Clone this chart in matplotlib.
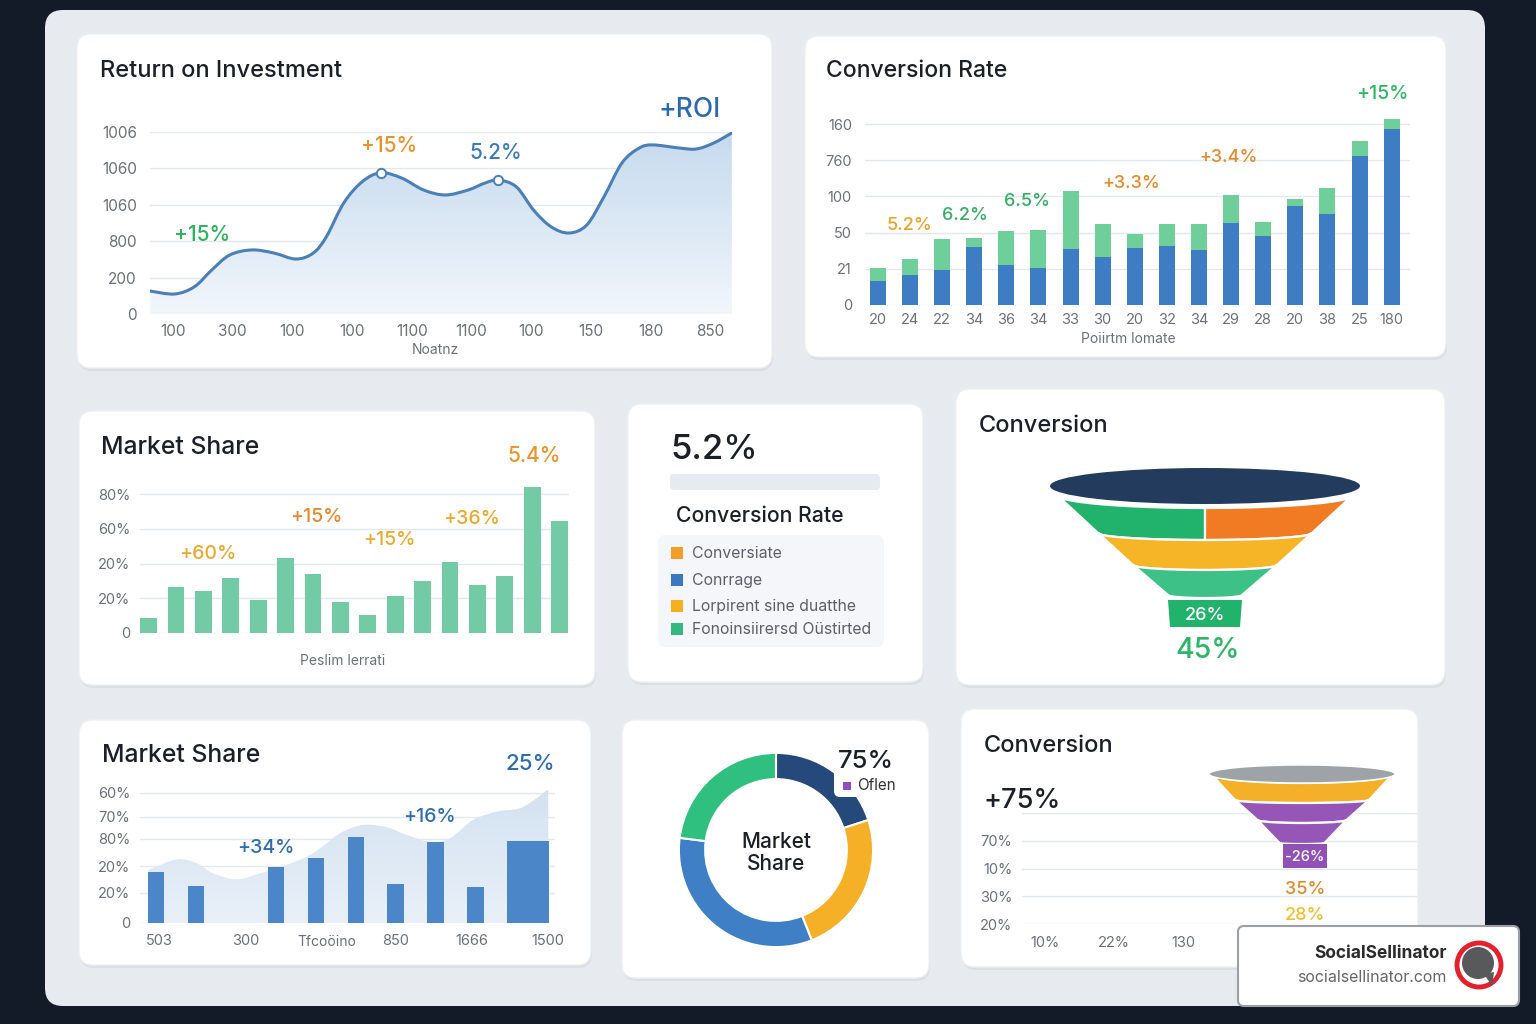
import numpy as np
import matplotlib
matplotlib.use("Agg")
import matplotlib.pyplot as plt
from matplotlib.patches import FancyBboxPatch, Ellipse, Polygon, Circle, Rectangle, PathPatch
from matplotlib.path import Path
from matplotlib.colors import LinearSegmentedColormap

plt.rcParams['font.family'] = ['Inter', 'DejaVu Sans']

W, H = 1536, 1024

# ---------------- data ----------------
# Return on Investment (line)
roi_x = [-0.38, 0.03, 0.36, 0.65, 0.95, 1.32, 1.69, 2.06, 2.35, 2.57, 2.86, 3.17, 3.48, 3.83,
         4.20, 4.56, 4.94, 5.23, 5.45, 5.75, 6.04, 6.33, 6.63, 6.93, 7.22, 7.52, 7.81, 8.04,
         8.48, 8.77, 9.06, 9.36]
roi_y = [126, 110, 150, 242, 324, 352, 335, 302, 335, 425, 610, 727, 776, 747,
         681, 654, 681, 720, 736, 699, 571, 480, 445, 489, 645, 830, 912, 929,
         912, 907, 940, 995]
roi_mark_x = [3.48, 5.45]
roi_mark_y = [776, 736]
roi_yticks = [0, 200, 400, 600, 800, 1000]
roi_ylabels = ['0', '200', '800', '1060', '1060', '1006']
roi_xlabels = ['100', '300', '100', '100', '1100', '1100', '100', '150', '180', '850']

# Conversion Rate (stacked bars)
conv_labels = ['20', '24', '22', '34', '36', '34', '33', '30', '20', '32', '34', '29', '28',
               '20', '38', '25', '180']
conv_blue = [0.66, 0.83, 0.97, 1.59, 1.10, 1.03, 1.56, 1.32, 1.57, 1.64, 1.51, 2.27, 1.91,
             2.74, 2.51, 4.13, 4.85]
conv_total = [1.01, 1.27, 1.81, 1.85, 2.04, 2.06, 3.16, 2.25, 1.97, 2.24, 2.24, 3.03, 2.30,
              2.92, 3.22, 4.52, 5.15]
conv_ylabels = ['0', '21', '50', '100', '760', '160']

# Market Share (bars)
share_vals = [0.42, 1.31, 1.21, 1.59, 0.95, 2.15, 1.70, 0.90, 0.51, 1.07, 1.49, 2.03, 1.39,
              1.63, 4.21, 3.21]
share_ylabels = ['0', '20%', '20%', '60%', '80%']

# KPI legend
kpi_items = ['Conversiate', 'Conrrage', 'Lorpirent sine duatthe', 'Fonoinsiirersd Oüstirted']
kpi_colors = ['#f0a028', '#3b78c0', '#f5b020', '#36b77f']

# Conversion funnel (mid)
fa_widths = [296, 214, 144, 74]
fa_levels = [495, 533, 565, 595]
fa_sags = [13, 7, 5, 3]
fa_colors = ['#f6b526', '#3dc187']

# Market Share (bottom)
ms2_x = [0, 1, 3, 4, 5, 6, 7, 8, 9.3]
ms2_w = [0.42] * 8 + [1.04]
ms2_h = [50.7, 37.3, 55.7, 64.7, 85.7, 39, 81, 36.3, 81.7]
ms2_area_x = [-0.19, 0.52, 1.02, 1.43, 2.02, 2.6, 3.27, 3.93, 4.6, 5.18, 5.77, 6.27, 6.85,
              7.35, 7.93, 8.52, 9.1, 9.52, 9.81]
ms2_area_y = [53, 63.7, 59.7, 49.7, 43.7, 49.7, 58, 69.7, 89.7, 98, 95.7, 88, 81.3, 84.7,
              103, 111.3, 114.7, 124.7, 133.7]
ms2_yticks = [0, 30, 57, 84, 106, 130]
ms2_ylabels = ['0', '20%', '20%', '80%', '70%', '60%']
ms2_xticks = [0.08, 2.24, 6.0, 7.9, 9.8]
ms2_xlabels = ['503', '300', '850', '1666', '1500']

# Donut
donut_vals = [20, 24, 33, 23]
donut_colors = ['#24497a', '#f5b027', '#3f7fc6', '#2fbf7f']

# Conversion (bottom)
c2_ylabels = ['20%', '30%', '10%', '70%', '']
c2_xticks = [0.058, 0.233, 0.408]
c2_xlabels = ['10%', '22%', '130']
fb_widths = [182, 134, 89, 45]
fb_levels = [774, 800, 820, 843]
fb_sags = [9, 3, 3, 1]
fb_colors = ['#f4b028', '#9656b8', '#9656b8']

cards = [(77, 34, 772, 368), (805, 36, 1446, 357), (79, 411, 595, 685), (628, 404, 923, 682),
         (956, 389, 1445, 685), (79, 720, 591, 965), (622, 720, 929, 978), (961, 709, 1418, 967)]

# ---------------- figure ----------------
fig = plt.figure(figsize=(W / 100, H / 100), dpi=100)
fig.patch.set_facecolor('#131b29')


def px_axes(x0, y0, x1, y1, **kw):
    return fig.add_axes([x0 / W, 1 - y1 / H, (x1 - x0) / W, (y1 - y0) / H], **kw)


def pixel_space(ax, x0, y0, x1, y1):
    ax.set_xlim(x0, x1)
    ax.set_ylim(y1, y0)
    ax.axis('off')


def style(ax, pad_y, pad_x, size=10.5):
    ax.set_facecolor('none')
    for s in ax.spines.values():
        s.set_visible(False)
    ax.grid(axis='y', color='#e4e7ec', lw=1)
    ax.grid(axis='x', visible=False)
    ax.set_axisbelow(True)
    ax.tick_params(axis='y', length=0, pad=pad_y, labelsize=size, labelcolor='#6b7078')
    ax.tick_params(axis='x', length=0, pad=pad_x, labelsize=size, labelcolor='#6b7078')


def rbox(ax, x0, y0, x1, y1, r, **kw):
    p = FancyBboxPatch((x0, y0), x1 - x0, y1 - y0,
                       boxstyle='round,pad=0,rounding_size=%d' % r, **kw)
    ax.add_patch(p)
    return p


def smooth_path(xs, ys, base=None):
    # Catmull-Rom through the read points, drawn as cubic Bezier segments
    p = np.column_stack([xs, ys]).astype(float)
    verts = [p[0]]
    codes = [Path.MOVETO]
    for i in range(len(p) - 1):
        p0 = p[i - 1] if i > 0 else p[i]
        p3 = p[i + 2] if i + 2 < len(p) else p[i + 1]
        c1 = p[i] + (p[i + 1] - p0) / 6
        c2 = p[i + 1] - (p3 - p[i]) / 6
        verts += [c1, c2, p[i + 1]]
        codes += [Path.CURVE4] * 3
    if base is not None:
        verts += [(p[-1][0], base), (p[0][0], base), p[0]]
        codes += [Path.LINETO, Path.LINETO, Path.CLOSEPOLY]
    return Path(verts, codes)


bg = px_axes(0, 0, W, H)
pixel_space(bg, 0, 0, W, H)
rbox(bg, 45, 10, 1485, 1006, 18, facecolor='#e7eaef', edgecolor='none')
for (x0, y0, x1, y1) in cards:
    rbox(bg, x0 + 1, y0 + 3, x1 + 1, y1 + 3, 14, facecolor='#d3d8df', edgecolor='none', alpha=0.6)
    rbox(bg, x0, y0, x1, y1, 14, facecolor='white', edgecolor='#edf0f3', lw=1)

# KPI card decorations
rbox(bg, 670, 474, 880, 490, 4, facecolor='#e6ebf1', edgecolor='none')
rbox(bg, 658, 535, 884, 647, 8, facecolor='#f4f6f9', edgecolor='none')

grad = np.linspace(0, 1, 256).reshape(-1, 1)

# ---- ROI line ----
ax = px_axes(150, 132, 732, 314)
style(ax, 9.4, 7, 11)
cmap = LinearSegmentedColormap.from_list('roi', ['#f1f6fb', '#c6daee'])
im = ax.imshow(grad, extent=[-0.385, 9.363, 0, 1000], origin='lower', aspect='auto', cmap=cmap,
               zorder=1)
im.set_clip_path(smooth_path(roi_x, roi_y, base=0), transform=ax.transData)
ax.add_patch(PathPatch(smooth_path(roi_x, roi_y), facecolor='none', edgecolor='#4a7fb8',
                       lw=2.2, zorder=3, capstyle='round'))
ax.scatter(roi_mark_x, roi_mark_y, s=45, facecolor='white', edgecolor='#4a7fb8', lw=1.4, zorder=4)
ax.set_xlim(-0.385, 9.363)
ax.set_ylim(0, 1000)
ax.set_yticks(roi_yticks, roi_ylabels)
ax.set_xticks(range(10), roi_xlabels)

# ---- Conversion Rate stacked bars ----
ax = px_axes(865, 115, 1410, 305)
style(ax, 9.4, 5.8)
cx = np.arange(len(conv_blue))
conv_green = np.array(conv_total) - np.array(conv_blue)
ax.bar(cx, conv_blue, width=0.5, color='#3e7cc3', zorder=2)
ax.bar(cx, conv_green, bottom=conv_blue, width=0.5, color='#6fcf9b', zorder=2)
ax.set_xlim(-0.4, 16.57)
ax.set_ylim(0, 5.25)
ax.set_yticks(range(6), conv_ylabels)
ax.set_xticks(cx, conv_labels)

# ---- Market Share bars ----
ax = px_axes(140, 483.6, 569, 633)
style(ax, 7, 5)
sx = np.arange(len(share_vals))
ax.bar(sx, share_vals, width=0.61, color='#72cba4', zorder=2)
ax.set_xlim(-0.31, 15.34)
ax.set_ylim(0, 4.3)
ax.set_yticks(range(5), share_ylabels)
ax.set_xticks([])

# ---- Market Share bottom (area + bars) ----
ax = px_axes(140, 788, 555, 923)
style(ax, 7, 8)
cmap2 = LinearSegmentedColormap.from_list('ms2', ['#e9f0f8', '#d3e2f1'])
im = ax.imshow(grad, extent=[-0.4, 9.98, 0, 135], origin='lower', aspect='auto', cmap=cmap2,
               zorder=1)
im.set_clip_path(smooth_path(ms2_area_x, ms2_area_y, base=0), transform=ax.transData)
ax.bar(ms2_x, ms2_h, width=ms2_w, color='#4a86c8', zorder=2)
ax.set_xlim(-0.4, 9.98)
ax.set_ylim(0, 135)
ax.set_yticks(ms2_yticks, ms2_ylabels)
ax.set_xticks(ms2_xticks, ms2_xlabels)

# ---- Conversion bottom (grid) ----
ax = px_axes(1022, 813, 1417, 924)
style(ax, 7, 8.6)
ax.set_xlim(0, 1)
ax.set_ylim(0, 4)
ax.set_yticks(range(5), c2_ylabels)
ax.set_xticks(c2_xticks, c2_xlabels)


# ---- funnels ----
def arc(cx, level, w, sag, reverse=False, half=None):
    lo, hi = -w / 2, w / 2
    if half == 'left':
        hi = 0
    elif half == 'right':
        lo = 0
    xs = np.linspace(lo, hi, 60)
    ys = level + sag * np.sqrt(np.clip(1 - (2 * xs / w) ** 2, 0, 1))
    pts = np.column_stack([cx + xs, ys])
    return pts[::-1] if reverse else pts


def band(ax, cx, i, widths, levels, sags, color, half=None):
    top = arc(cx, levels[i], widths[i], sags[i], half=half)
    bot = arc(cx, levels[i + 1], widths[i + 1], sags[i + 1], reverse=True, half=half)
    ax.add_patch(Polygon(np.vstack([top, bot]), closed=True, facecolor=color,
                         edgecolor='white', lw=1.6))


fa = px_axes(956, 389, 1445, 685)
pixel_space(fa, 956, 389, 1445, 685)
fa.add_patch(Ellipse((1205, 486), 310, 36, facecolor='#233b5d', edgecolor='none'))
band(fa, 1205, 0, fa_widths, fa_levels, fa_sags, '#21b26b', half='left')
band(fa, 1205, 0, fa_widths, fa_levels, fa_sags, '#f07b22', half='right')
for i in range(1, 3):
    band(fa, 1205, i, fa_widths, fa_levels, fa_sags, fa_colors[i - 1])
fa.add_patch(Polygon([(1168, 600), (1242, 600), (1240, 627), (1170, 627)], closed=True,
                     facecolor='#21b26b', edgecolor='none'))

fb = px_axes(961, 709, 1418, 967)
pixel_space(fb, 961, 709, 1418, 967)
for i in range(3):
    band(fb, 1302, i, fb_widths, fb_levels, fb_sags, fb_colors[i])
fb.add_patch(Ellipse((1302, 774), 186, 18, facecolor='#9ea3a8', edgecolor='white', lw=1))
fb.add_patch(Rectangle((1283, 844), 44, 24, facecolor='#9152b5', edgecolor='none'))

# ---- donut ----
ax = px_axes(676, 750, 876, 950)
ax.pie(donut_vals, colors=donut_colors, startangle=90, counterclock=False, radius=1,
       wedgeprops=dict(width=0.27, edgecolor='white', lw=1.5))
ax.set_xlim(-1.03, 1.03)
ax.set_ylim(-1.03, 1.03)
ax.set_aspect('equal')
ax.axis('off')

# ---------------- overlay texts ----------------
top = fig.add_axes([0, 0, 1, 1], zorder=10)
pixel_space(top, 0, 0, W, H)
top.set_facecolor('none')


def t(x, y, s, size, color='#1b1f27', ha='center', va='center', **kw):
    top.text(x, y, s, fontsize=size, color=color, ha=ha, va=va, **kw)


dark = '#1b1f27'
t(100, 71, 'Return on Investment', 17, dark, ha='left', weight='medium')
t(826, 71, 'Conversion Rate', 16.5, dark, ha='left', weight='medium')
t(101, 447, 'Market Share', 17.8, dark, ha='left', weight='medium')
t(979, 426, 'Conversion', 17, dark, ha='left', weight='medium')
t(102, 755, 'Market Share', 17.8, dark, ha='left', weight='medium')
t(984, 746, 'Conversion', 17, dark, ha='left', weight='medium')
t(670, 450, '5.2%', 25, dark, ha='left', weight='medium')
t(676, 516, 'Conversion Rate', 15.3, dark, ha='left', weight='medium')
t(984, 801, '+75%', 19.5, dark, ha='left', weight='medium')

t(690, 110, '+ROI', 19, '#2c69ad', weight='medium')
t(389, 146, '+15%', 15, '#e8912d', weight='medium')
t(496, 153, '5.2%', 15, '#3a7ab8', weight='medium')
t(202, 235, '+15%', 15, '#2db35d', weight='medium')
t(910, 226, '5.2%', 13, '#e9a326', weight='medium')
t(965, 215, '6.2%', 13, '#35ad64', weight='medium')
t(1027, 202, '6.5%', 13, '#35ad64', weight='medium')
t(1131, 184, '+3.3%', 13, '#e58a2a', weight='medium')
t(1229, 158, '+3.4%', 13, '#e58a2a', weight='medium')
t(1382, 94, '+15%', 14, '#2fb563', weight='medium')
t(208, 554, '+60%', 14, '#e9a92f', weight='medium')
t(316, 517, '+15%', 14, '#e8862b', weight='medium')
t(389, 540, '+15%', 14, '#e9a92f', weight='medium')
t(472, 519, '+36%', 14, '#e9a92f', weight='medium')
t(534, 456, '5.4%', 15, '#e8952b', weight='medium')
t(530, 764, '25%', 16, '#2f6cae', weight='medium')
t(266, 848, '+34%', 14, '#2f6cae', weight='medium')
t(429, 817, '+16%', 14, '#2f6cae', weight='medium')
t(1205, 616, '26%', 13, 'white', weight='medium')
t(1208, 650, '45%', 20.5, '#2fb567', weight='medium')
t(1305, 857, '-26%', 10.5, 'white', weight='medium')
t(1305, 889, '35%', 13, '#e08a2a', weight='medium')
t(1305, 916, '28%', 13, '#f0c030', weight='medium')

t(435, 350, 'Noatnz', 10, '#6b7078')
t(1128, 339, 'Poiirtm lomate', 10, '#6b7078')
t(343, 661, 'Peslim lerrati', 10, '#6b7078')
t(327, 942, 'Tfcoöino', 10, '#6b7078')

# KPI legend
for i, (lab, col) in enumerate(zip(kpi_items, kpi_colors)):
    y = [553, 580, 606, 629][i]
    top.add_patch(Rectangle((671, y - 6), 12, 12, facecolor=col, edgecolor='none'))
    t(692, y, lab, 11.4, '#5c6069', ha='left')

# donut labels
rbox(top, 834, 745, 900, 797, 6, facecolor='white', edgecolor='none')
t(776, 853, 'Market\nShare', 15, dark, linespacing=1.15, weight='medium')
t(866, 762, '75%', 18.5, dark, weight='medium')
top.add_patch(Rectangle((843, 782), 8, 8, facecolor='#8e4fc0', edgecolor='none'))
t(857, 786, 'Oflen', 11, '#333333', ha='left')

# logo box
rbox(top, 1238, 926, 1519, 1006, 6, facecolor='white', edgecolor='#9aa0a6', lw=1.5)
t(1447, 954, 'SocialSellinator', 12.5, '#2b2b2b', ha='right', weight='bold')
t(1447, 977, 'socialsellinator.com', 11.5, '#666666', ha='right')
top.add_patch(Circle((1479, 965), 22, facecolor='none', edgecolor='#e3202b', lw=3.5))
top.add_patch(Circle((1478, 963), 16, facecolor='#58595b', edgecolor='none'))
top.add_patch(Polygon([(1484, 974), (1494, 972), (1492, 986)], closed=True,
                      facecolor='#58595b', edgecolor='none'))

fig.savefig('out.png', dpi=100, facecolor=fig.get_facecolor())
